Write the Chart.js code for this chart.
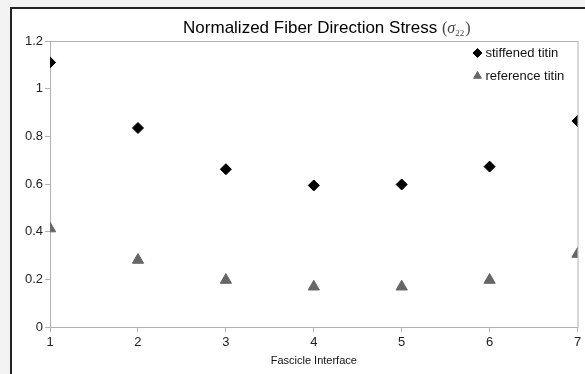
<!DOCTYPE html>
<html>
<head>
<meta charset="utf-8">
<script src="https://cdn.jsdelivr.net/npm/chart.js@4/dist/chart.umd.min.js"></script>
<style>
  html, body { margin: 0; padding: 0; background: #f3f3f3; }
  #frame {
    position: absolute; left: 10px; top: 7px;
    width: 573px; height: 365px;
    border-left: 2px solid #222; border-top: 2px solid #222;
    background: #fff;
  }
</style>
</head>
<body>
<div id="frame"><canvas id="stress_chart" width="573" height="365"></canvas></div>
<script>
var interfaces = [1, 2, 3, 4, 5, 6, 7];
var stiffenedTitin = [1.11, 0.835, 0.662, 0.594, 0.598, 0.673, 0.864];
var referenceTitin = [0.413, 0.281, 0.197, 0.169, 0.169, 0.197, 0.306];
var yTicks = [0, 0.2, 0.4, 0.6, 0.8, 1, 1.2];

var sansFont = '"Liberation Sans", Arial, sans-serif';

function toPoints(values) {
    return values.map(function (v, i) { return { x: interfaces[i], y: v }; });
}

// plot area outline + title with sigma + legend inside the plot
var decorations = {
    id: 'decorations',
    beforeDatasetsDraw: function (chart) {
        var ctx = chart.ctx, a = chart.chartArea;
        ctx.save();
        ctx.strokeStyle = '#b3b3b3';
        ctx.lineWidth = 1;
        ctx.strokeRect(a.left + 0.5, a.top + 0.5, a.right - a.left, a.bottom - a.top);
        ctx.restore();
    },
    afterDraw: function (chart) {
        var ctx = chart.ctx, a = chart.chartArea;
        ctx.save();
        // title
        var main = 'Normalized Fiber Direction Stress ';
        ctx.font = '17px ' + sansFont;
        var w1 = ctx.measureText(main).width;
        ctx.font = '16px "Liberation Serif", serif';
        var wp = ctx.measureText('(').width;
        ctx.font = 'italic 16px "Liberation Serif", serif';
        var ws = ctx.measureText('σ').width;
        ctx.font = '9px "Liberation Serif", serif';
        var w2 = ctx.measureText('22').width;
        var total = w1 + wp * 2 + ws + w2 + 1;
        var x = (a.left + a.right) / 2 + 13 - total / 2;
        var y = 24;
        ctx.fillStyle = '#000';
        ctx.textBaseline = 'alphabetic';
        ctx.textAlign = 'left';
        ctx.font = '17px ' + sansFont;
        ctx.fillText(main, x, y);
        x += w1;
        ctx.fillStyle = '#444';
        ctx.font = '16px "Liberation Serif", serif';
        ctx.fillText('(', x, y);
        x += wp;
        ctx.font = 'italic 16px "Liberation Serif", serif';
        ctx.fillText('σ', x, y);
        x += ws;
        ctx.font = '9px "Liberation Serif", serif';
        ctx.fillText('22', x, y + 3);
        x += w2 + 1;
        ctx.font = '16px "Liberation Serif", serif';
        ctx.fillText(')', x, y);

        // legend
        chart.data.datasets.forEach(function (ds, i) {
            var px = a.right - 100, py = a.top + 12 + i * 23;
            ctx.fillStyle = ds.backgroundColor;
            ctx.strokeStyle = ds.borderColor;
            ctx.lineWidth = 1;
            Chart.helpers.drawPoint(ctx, { pointStyle: ds.pointStyle, radius: 4.5, borderWidth: 1, rotation: 0 }, px, py);
            ctx.fillStyle = '#111';
            ctx.font = '13px ' + sansFont;
            ctx.textBaseline = 'middle';
            ctx.fillText(ds.label, px + 8, py);
        });
        ctx.restore();
    }
};

new Chart(document.getElementById('stress_chart').getContext('2d'), {
    type: 'scatter',
    data: {
        datasets: [{
            label: 'stiffened titin',
            data: toPoints(stiffenedTitin),
            pointStyle: 'rectRot',
            pointRadius: 5.5,
            backgroundColor: '#000',
            borderColor: '#000',
            borderWidth: 1
        }, {
            label: 'reference titin',
            data: toPoints(referenceTitin),
            pointStyle: 'triangle',
            pointRadius: 6.5,
            backgroundColor: '#666',
            borderColor: '#666',
            borderWidth: 1
        }]
    },
    options: {
        responsive: false,
        animation: false,
        layout: { padding: { top: 32, left: 11, right: 6, bottom: 6 } },
        plugins: {
            legend: { display: false },
            tooltip: { enabled: false }
        },
        scales: {
            x: {
                type: 'linear',
                min: 1,
                max: 7,
                afterFit: function (axis) { axis.height = 41; },
                ticks: {
                    stepSize: 1,
                    padding: 3,
                    maxRotation: 0,
                    color: '#222',
                    font: { family: sansFont, size: 13 }
                },
                grid: { drawOnChartArea: false, tickLength: 5, color: '#b3b3b3' },
                border: { color: '#b3b3b3' },
                title: {
                    display: true,
                    text: 'Fascicle Interface',
                    color: '#111',
                    padding: { top: 2, bottom: 0 },
                    font: { family: sansFont, size: 11 }
                }
            },
            y: {
                min: 0,
                max: 1.2,
                afterBuildTicks: function (axis) {
                    axis.ticks = yTicks.map(function (v) { return { value: v }; });
                },
                ticks: {
                    padding: 2,
                    color: '#222',
                    font: { family: sansFont, size: 13 },
                    callback: function (v) { return String(Number(v.toFixed(1))); }
                },
                grid: { drawOnChartArea: false, tickLength: 5, color: '#b3b3b3' },
                border: { color: '#b3b3b3' }
            }
        }
    },
    plugins: [decorations]
});
</script>
</body>
</html>
